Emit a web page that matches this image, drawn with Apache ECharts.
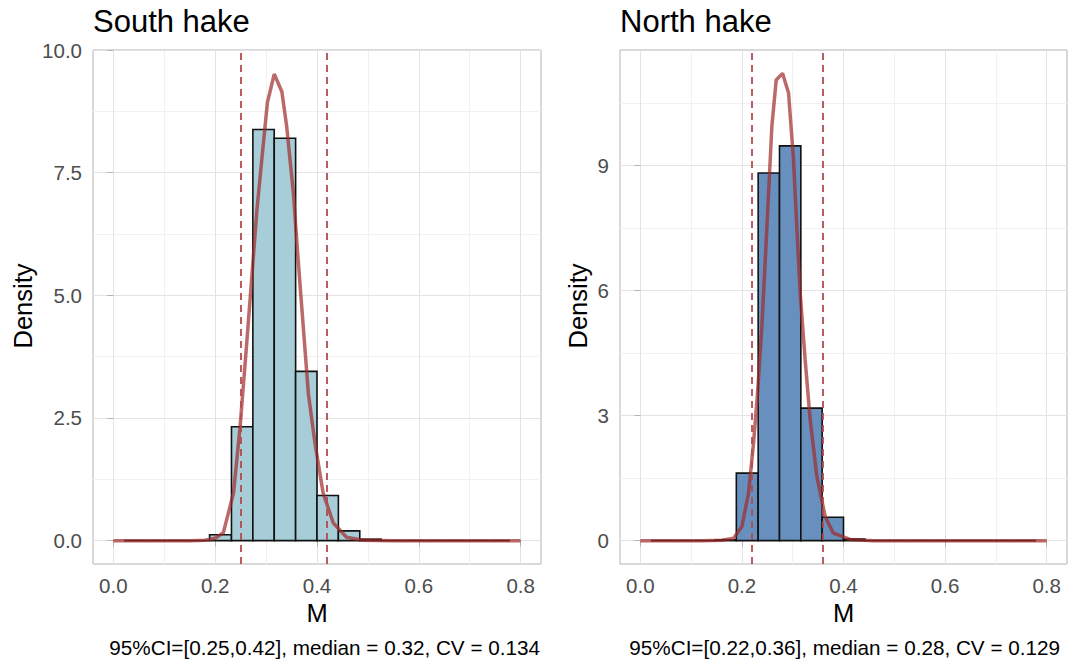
<!DOCTYPE html>
<html>
<head>
<meta charset="utf-8">
<script src="https://cdn.jsdelivr.net/npm/echarts@6/dist/echarts.min.js"></script>
<style>
html,body{margin:0;padding:0;background:#fff;}
#chart{width:1070px;height:660px;}
</style>
</head>
<body>
<div id="chart"></div>
<script>
// ---- data ----
const panelTitles = ['South hake', 'North hake'];
const captions = ['95%CI=[0.25,0.42], median = 0.32, CV = 0.134', '95%CI=[0.22,0.36], median = 0.28, CV = 0.129'];
const xTicks = [0, 0.2, 0.4, 0.6, 0.8];
const xMinorTicks = [0.1, 0.3, 0.5, 0.7];
const southYTicks = [0, 2.5, 5, 7.5, 10];
const southYMinor = [1.25, 3.75, 6.25, 8.75];
const northYTicks = [0, 3, 6, 9];
const northYMinor = [1.5, 4.5, 7.5, 10.5];

const binEdges = [0.021, 0.063, 0.105, 0.147, 0.189, 0.232, 0.274, 0.316, 0.358, 0.400, 0.442, 0.484, 0.526, 0.568, 0.611, 0.653, 0.695, 0.737, 0.779];
const southHeights = [0, 0, 0, 0, 0.12, 2.32, 8.38, 8.20, 3.45, 0.92, 0.20, 0.03, 0, 0, 0, 0, 0, 0];
const northHeights = [0, 0, 0, 0.02, 1.62, 8.82, 9.47, 3.18, 0.56, 0.04, 0, 0, 0, 0, 0, 0, 0, 0];

const southDensX = [0, 0.15, 0.18, 0.20, 0.216, 0.236, 0.249, 0.262, 0.272, 0.282, 0.2915, 0.3026, 0.316, 0.331, 0.3405, 0.3536, 0.363, 0.373, 0.383, 0.396, 0.412, 0.432, 0.458, 0.49, 0.55, 0.8];
const southDensY = [0, 0, 0.01, 0.05, 0.16, 0.97, 2.33, 4.03, 5.38, 6.74, 7.76, 8.93, 9.51, 9.15, 8.44, 7.08, 5.72, 4.36, 3.0, 1.99, 0.97, 0.36, 0.07, 0.01, 0, 0];
const northDensX = [0, 0.12, 0.16, 0.1836, 0.200, 0.213, 0.2229, 0.2308, 0.2393, 0.246, 0.2525, 0.259, 0.2675, 0.280, 0.2918, 0.3016, 0.308, 0.3147, 0.3245, 0.3344, 0.3476, 0.3639, 0.380, 0.413, 0.46, 0.8];
const northDensY = [0, 0, 0.01, 0.06, 0.34, 1.14, 2.34, 3.54, 5.14, 6.74, 8.34, 9.94, 11.05, 11.21, 10.74, 9.14, 7.54, 5.94, 4.34, 2.90, 1.54, 0.58, 0.18, 0.03, 0, 0];

const southCI = [0.251, 0.421];
const northCI = [0.216, 0.362];

// ---- build ----
const FONT = '"Liberation Sans", Arial, sans-serif';
const chart = echarts.init(document.getElementById('chart'), null, {renderer: 'svg'});

function bins(heights) {
  return heights.map((h, i) => [binEdges[i], binEdges[i + 1], h]);
}
function pairs(xs, ys) { return xs.map((x, i) => [x, ys[i]]); }

const grids = [
  {left: 93, top: 50, width: 448, height: 514},
  {left: 620, top: 50, width: 447, height: 514}
];
const yRanges = [[-0.476, 10.0], [-0.56, 11.77]];
const yTickSets = [southYTicks, northYTicks];
const yMinorSets = [southYMinor, northYMinor];
const xMin = -0.04, xMax = 0.84;

const xAxes = [], yAxes = [];
[0, 1].forEach(g => {
  xAxes.push({
    type: 'value', gridIndex: g, min: xMin, max: xMax, z: 1,
    axisLine: {show: false},
    axisTick: {show: true, length: 6, lineStyle: {color: '#B3B3B3', width: 1}, customValues: xTicks},
    axisLabel: {show: true, margin: 11, customValues: xTicks, color: '#4D4D4D', fontSize: 20.5, fontFamily: FONT,
      formatter: v => Number(v).toFixed(1)},
    splitLine: {show: true, lineStyle: {color: '#E3E3E3', width: 1}}
  });
  yAxes.push({
    type: 'value', gridIndex: g, min: yRanges[g][0], max: yRanges[g][1], z: 1,
    axisLine: {show: false},
    axisTick: {show: true, length: 6, lineStyle: {color: '#B3B3B3', width: 1}, customValues: yTickSets[g]},
    axisLabel: {show: true, margin: 11, customValues: yTickSets[g], color: '#4D4D4D', fontSize: 20.5, fontFamily: FONT,
      formatter: v => g === 0 ? Number(v).toFixed(1) : String(Number(v))},
    splitLine: {show: true, lineStyle: {color: '#E3E3E3', width: 1}}
  });
});
[0, 1].forEach(g => {
  xAxes.push({
    type: 'value', gridIndex: g, min: xMin, max: xMax, z: 0,
    axisLine: {show: false}, axisLabel: {show: false},
    axisTick: {show: false, customValues: xMinorTicks},
    splitLine: {show: true, lineStyle: {color: '#F1F1F1', width: 1}}
  });
  yAxes.push({
    type: 'value', gridIndex: g, min: yRanges[g][0], max: yRanges[g][1], z: 0,
    axisLine: {show: false}, axisLabel: {show: false},
    axisTick: {show: false, customValues: yMinorSets[g]},
    splitLine: {show: true, lineStyle: {color: '#F1F1F1', width: 1}}
  });
});

function histSeries(g, data, color) {
  return {
    type: 'custom', xAxisIndex: g, yAxisIndex: g, z: 2,
    data: data,
    renderItem: function (params, api) {
      const p0 = api.coord([api.value(0), api.value(2)]);
      const p1 = api.coord([api.value(1), 0]);
      return {
        type: 'rect',
        shape: {x: p0[0], y: p0[1], width: p1[0] - p0[0], height: p1[1] - p0[1]},
        style: {fill: color, stroke: '#111111', lineWidth: 1.6}
      };
    }
  };
}
function densSeries(g, data, ci) {
  return {
    type: 'line', xAxisIndex: g, yAxisIndex: g, z: 3,
    data: data, showSymbol: false, symbol: 'none', smooth: false,
    lineStyle: {color: 'rgba(160,42,42,0.7)', width: 3.5},
    markLine: {
      silent: true, symbol: 'none', label: {show: false}, animation: false,
      lineStyle: {type: [7, 5], color: '#B44A4E', width: 1.8},
      data: ci.map(v => ({xAxis: v}))
    }
  };
}

const graphics = [];
const titleX = [93, 620];
const panelCenters = [317, 843.5];
const densityX = [23, 578];
const captionRight = [540, 1060];
[0, 1].forEach(g => {
  graphics.push({type: 'text', x: titleX[g], y: 21.5,
    style: {text: panelTitles[g], fill: '#000', font: '31px ' + FONT, textAlign: 'left', textVerticalAlign: 'middle'}});
  graphics.push({type: 'text', x: panelCenters[g], y: 613,
    style: {text: 'M', fill: '#000', font: '25.5px ' + FONT, textAlign: 'center', textVerticalAlign: 'middle'}});
  graphics.push({type: 'text', x: densityX[g], y: 306, rotation: Math.PI / 2,
    style: {text: 'Density', fill: '#000', font: '25.5px ' + FONT, textAlign: 'center', textVerticalAlign: 'middle'}});
  graphics.push({type: 'text', x: captionRight[g], y: 647,
    style: {text: captions[g], fill: '#000', font: '20.7px ' + FONT, textAlign: 'right', textVerticalAlign: 'middle'}});
});

chart.setOption({
  animation: false,
  backgroundColor: '#fff',
  grid: grids.map(gr => Object.assign({show: true, borderColor: '#B3B3B3', borderWidth: 1, backgroundColor: 'transparent', containLabel: false}, gr)),
  xAxis: xAxes,
  yAxis: yAxes,
  series: [
    histSeries(0, bins(southHeights), '#A7CDD8'),
    densSeries(0, pairs(southDensX, southDensY), southCI),
    histSeries(1, bins(northHeights), '#6890BF'),
    densSeries(1, pairs(northDensX, northDensY), northCI)
  ],
  graphic: graphics
});
</script>
</body>
</html>
